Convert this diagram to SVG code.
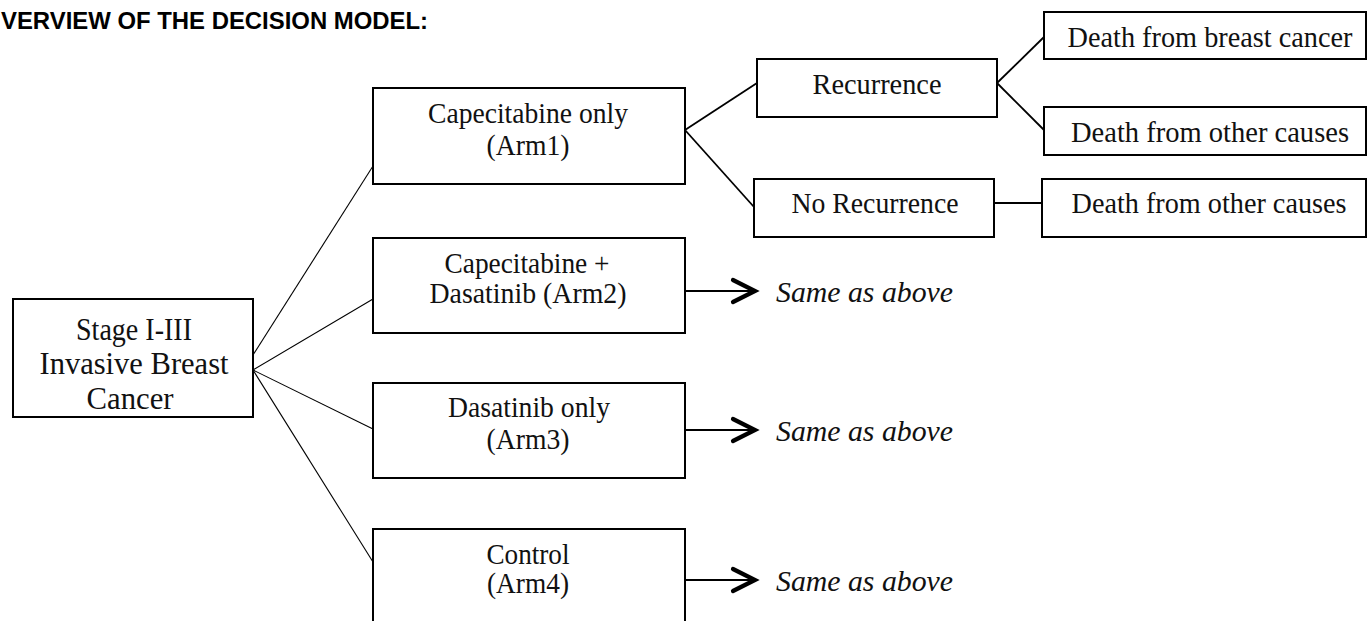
<svg xmlns="http://www.w3.org/2000/svg" width="1372" height="621" viewBox="0 0 1372 621">
  <defs>
    <style>
      .box { fill: #ffffff; stroke: #000000; stroke-width: 2; }
      .lbl { font-family: "Liberation Serif", "Times New Roman", serif; fill: #111111; text-anchor: middle; }
      .same { font-family: "Liberation Serif", "Times New Roman", serif; font-style: italic; fill: #111111; font-size: 29px; }
      .thin { stroke: #000000; stroke-width: 1.1; fill: none; }
      .link { stroke: #000000; stroke-width: 1.8; fill: none; }
      .arrow { stroke: #000000; stroke-width: 2.2; fill: none; marker-end: url(#chevron); }
      .title { font-family: "Liberation Sans", Arial, sans-serif; font-weight: bold; font-size: 23px; fill: #000000; }
    </style>
    <!-- open chevron head used on the "same as above" arrows -->
    <marker id="chevron" markerUnits="userSpaceOnUse" viewBox="-28 -16 32 32" refX="0" refY="0" markerWidth="32" markerHeight="32" orient="auto" overflow="visible">
      <path d="M-22,-11 L0,0 L-22,11" fill="none" stroke="#000000" stroke-width="4.2" stroke-linecap="round" stroke-linejoin="miter"/>
    </marker>
  </defs>

  <rect x="0" y="0" width="1372" height="621" fill="#ffffff"/>

  <text class="title" x="1" y="29" textLength="427" lengthAdjust="spacingAndGlyphs">VERVIEW OF THE DECISION MODEL:</text>

  <!-- connectors -->
  <g id="connectors">
    <line class="thin" x1="253" y1="355" x2="373" y2="166"/>
    <line class="thin" x1="253" y1="370" x2="373" y2="299"/>
    <line class="thin" x1="253" y1="370" x2="373" y2="429"/>
    <line class="thin" x1="253" y1="370" x2="373" y2="562"/>
    <line class="link" x1="685" y1="130" x2="757" y2="83"/>
    <line class="link" x1="685" y1="130" x2="754" y2="207"/>
    <line class="link" x1="997" y1="83" x2="1044" y2="37"/>
    <line class="link" x1="997" y1="83" x2="1044" y2="130"/>
    <line class="link" x1="994" y1="203" x2="1042" y2="203"/>
    <line class="arrow" x1="686" y1="291" x2="755" y2="291"/>
    <line class="arrow" x1="686" y1="430" x2="755" y2="430"/>
    <line class="arrow" x1="686" y1="580" x2="755" y2="580"/>
  </g>

  <g id="root">
    <rect class="box" x="13" y="299" width="240" height="118"/>
    <text class="lbl" font-size="32" x="134" y="340" textLength="116" lengthAdjust="spacingAndGlyphs">Stage I-III</text>
    <text class="lbl" font-size="32" x="134" y="374" textLength="189" lengthAdjust="spacingAndGlyphs">Invasive Breast</text>
    <text class="lbl" font-size="32" x="130" y="409" textLength="87" lengthAdjust="spacingAndGlyphs">Cancer</text>
  </g>

  <g id="arm1">
    <rect class="box" x="373" y="88" width="312" height="96"/>
    <text class="lbl" font-size="29" x="528" y="123" textLength="200" lengthAdjust="spacingAndGlyphs">Capecitabine only</text>
    <text class="lbl" font-size="29" x="528" y="155" textLength="83" lengthAdjust="spacingAndGlyphs">(Arm1)</text>
  </g>

  <g id="arm2">
    <rect class="box" x="373" y="238" width="312" height="95"/>
    <text class="lbl" font-size="29" x="527" y="273" textLength="165" lengthAdjust="spacingAndGlyphs">Capecitabine +</text>
    <text class="lbl" font-size="29" x="528" y="303" textLength="197" lengthAdjust="spacingAndGlyphs">Dasatinib (Arm2)</text>
  </g>

  <g id="arm3">
    <rect class="box" x="373" y="383" width="312" height="95"/>
    <text class="lbl" font-size="29" x="529" y="417" textLength="162" lengthAdjust="spacingAndGlyphs">Dasatinib only</text>
    <text class="lbl" font-size="29" x="528" y="449" textLength="83" lengthAdjust="spacingAndGlyphs">(Arm3)</text>
  </g>

  <g id="arm4">
    <rect class="box" x="373" y="529" width="312" height="110"/>
    <text class="lbl" font-size="29" x="528" y="564" textLength="83" lengthAdjust="spacingAndGlyphs">Control</text>
    <text class="lbl" font-size="29" x="528" y="593" textLength="82" lengthAdjust="spacingAndGlyphs">(Arm4)</text>
  </g>

  <g id="recurrence">
    <rect class="box" x="757" y="59" width="240" height="58"/>
    <text class="lbl" font-size="30" x="877" y="94" textLength="129" lengthAdjust="spacingAndGlyphs">Recurrence</text>
  </g>

  <g id="no-recurrence">
    <rect class="box" x="754" y="179" width="240" height="58"/>
    <text class="lbl" font-size="30" x="875" y="213" textLength="167" lengthAdjust="spacingAndGlyphs">No Recurrence</text>
  </g>

  <g id="death-breast-cancer">
    <rect class="box" x="1044" y="12" width="322" height="47"/>
    <text class="lbl" font-size="28.5" x="1210" y="47" textLength="285" lengthAdjust="spacingAndGlyphs">Death from breast cancer</text>
  </g>

  <g id="death-other-recurrence">
    <rect class="box" x="1044" y="107" width="322" height="48"/>
    <text class="lbl" font-size="29" x="1210" y="142" textLength="278" lengthAdjust="spacingAndGlyphs">Death from other causes</text>
  </g>

  <g id="death-other-no-recurrence">
    <rect class="box" x="1042" y="179" width="324" height="58"/>
    <text class="lbl" font-size="29" x="1209" y="213" textLength="275" lengthAdjust="spacingAndGlyphs">Death from other causes</text>
  </g>

  <g id="same-arm2">
    <text class="same" x="776" y="302" textLength="177" lengthAdjust="spacingAndGlyphs">Same as above</text>
  </g>
  <g id="same-arm3">
    <text class="same" x="776" y="441" textLength="177" lengthAdjust="spacingAndGlyphs">Same as above</text>
  </g>
  <g id="same-arm4">
    <text class="same" x="776" y="591" textLength="177" lengthAdjust="spacingAndGlyphs">Same as above</text>
  </g>
</svg>
